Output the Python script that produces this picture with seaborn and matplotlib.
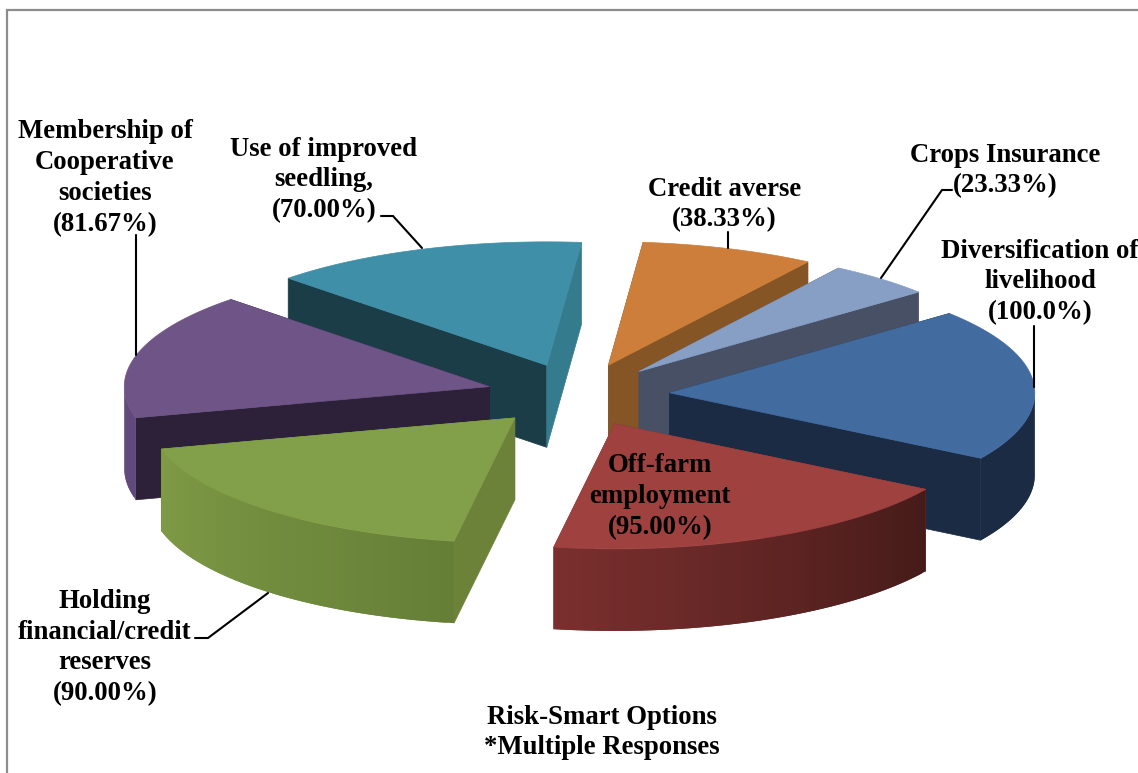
"""
plot.py
Exploded 3D-look pie of risk-smart options (multiple responses).
matplotlib has no real 3D pie so the slices are built as polygons from the values.
"""

import numpy as np
import matplotlib
matplotlib.use('Agg')
import matplotlib.pyplot as plt
import seaborn as sns
from matplotlib.patches import Polygon

# clockwise from the first slice
OPTIONS = ['Diversification of\nlivelihood', 'Off-farm\nemployment',
           'Holding\nfinancial/credit\nreserves', 'Membership of\nCooperative\nsocieties',
           'Use of improved\nseedling,', 'Credit averse', 'Crops Insurance']
VALUES = [100.0, 95.0, 90.0, 81.67, 70.0, 38.33, 23.33]
VALUE_LABELS = ['(100.0%)', '(95.00%)', '(90.00%)', '(81.67%)', '(70.00%)', '(38.33%)', '(23.33%)']

TOP_COLORS = ['#426BA0', '#9E413F', '#82A049', '#6E5487', '#3F8FA8', '#CC7E3A', '#889FC5']
WALL_START = ['#1A2B43', '#451B19', '#667F37', '#62497B', '#3F8FA8', '#CC7E3A', '#889FC5']
WALL_END = ['#1A2B43', '#7A2F2E', '#7F9A46', '#6A5083', '#3F8FA8', '#CC7E3A', '#889FC5']
CUT_START = ['#1A2B43', '#7A2F2E', '#6C8239', '#2C2138', '#1A3D47', '#855526', '#475064']
CUT_END = ['#1A2B43', '#7A2F2E', '#6C8239', '#2C2138', '#347B8E', '#855526', '#475064']

# back to front
DRAW_ORDER = [4, 5, 6, 0, 3, 2, 1]

# layout, in pixels of the figure
CENTER = (578, 395)
RX, RY_FRONT, RY_BACK = 365, 125, 123.5
DEPTH = 82
EXPLODE = 92
START_ANGLE = 40
FRONT_TWIST = 1.3  # degrees, the original's perspective turns the near rim a little

LABEL_POS = [(1040, 282), (660, 496.5), (105, 647.5), (105, 178), (324, 180), (724.5, 204.5), (1005, 170.5)]
LEADERS = [
    ([1034, 1034], [387, 326]),
    ([268, 208, 195], [593, 638, 638]),
    ([136, 136], [355, 235]),
    ([422, 393, 381], [248, 216, 216]),
    ([728, 728], [248, 232]),
    ([881, 942, 952], [278, 190, 190]),
]


def slice_angles(values, start):
    sweep = np.array(values) / sum(values) * 360
    ends = start - np.cumsum(sweep)
    starts = ends + sweep
    return starts, ends


def ellipse_xy(tip, deg):
    rad = np.radians(deg)
    sin = np.sin(rad)
    rad = rad + np.radians(FRONT_TWIST) * np.clip(-sin, 0, 1)
    sin = np.sin(rad)
    return tip[0] + RX * np.cos(rad), tip[1] - np.where(sin > 0, RY_BACK, RY_FRONT) * sin


def draw_slice(ax, i, a0, a1):
    mid = np.radians((a0 + a1) / 2)
    tip = (CENTER[0] + EXPLODE * np.cos(mid), CENTER[1] - EXPLODE * RY_FRONT / RX * np.sin(mid))

    # cut faces first, the top hides whichever one faces away
    for ang, col in [(a0, CUT_START[i]), (a1, CUT_END[i])]:
        x, y = ellipse_xy(tip, ang)
        pts = [tip, (x, y), (x, y + DEPTH), (tip[0], tip[1] + DEPTH)]
        ax.add_patch(Polygon(pts, facecolor=col, edgecolor=col, lw=0.5))

    # outer wall in strips so the shading runs along the rim; each strip
    # overlaps the next so no white shows through the seams
    n_strips = 60
    grid = np.linspace(a0, a1, n_strips + 1)
    shades = sns.blend_palette([WALL_START[i], WALL_END[i]], n_strips)
    for k in range(n_strips):
        if np.sin(np.radians((grid[k] + grid[k + 1]) / 2)) > 0:
            continue  # back of the rim
        seg = grid[k:min(k + 3, n_strips + 1)]
        xs, ys = ellipse_xy(tip, seg)
        pts = list(zip(xs, ys)) + list(zip(xs[::-1], ys[::-1] + DEPTH))
        ax.add_patch(Polygon(pts, facecolor=shades[k], edgecolor='none'))

    arc = np.linspace(a0, a1, 120)
    xs, ys = ellipse_xy(tip, arc)
    pts = [tip] + list(zip(xs, ys))
    ax.add_patch(Polygon(pts, facecolor=TOP_COLORS[i], edgecolor=TOP_COLORS[i], lw=0.5))


def main():
    sns.set_theme(style='white')
    plt.rcParams['font.family'] = ['Liberation Serif', 'DejaVu Serif']

    fig = plt.figure(figsize=(11.38, 7.73), dpi=100)
    ax = fig.add_axes([0, 0, 1, 1])
    ax.set_xlim(0, 1138)
    ax.set_ylim(773, 0)
    ax.axis('off')

    # chart frame, only top and left are inside the crop
    ax.plot([7, 7, 1138], [773, 10, 10], color='#8C8C8C', lw=1.6, solid_joinstyle='miter')

    starts, ends = slice_angles(VALUES, START_ANGLE)
    for i in DRAW_ORDER:
        draw_slice(ax, i, starts[i], ends[i])

    for xs, ys in LEADERS:
        ax.plot(xs, ys, color='black', lw=1.5, solid_joinstyle='miter')

    for name, val, (x, y) in zip(OPTIONS, VALUE_LABELS, LABEL_POS):
        ax.text(x, y, f'{name}\n{val}', ha='center', va='center', ma='center',
                fontsize=19.3, fontweight='bold', color='black', linespacing=1.31)

    ax.text(602, 732.5, 'Risk-Smart Options\n*Multiple Responses', ha='center', va='center',
            ma='center', fontsize=19.3, fontweight='bold', color='black', linespacing=1.31)

    fig.savefig('out.png', dpi=100)


if __name__ == '__main__':
    main()
